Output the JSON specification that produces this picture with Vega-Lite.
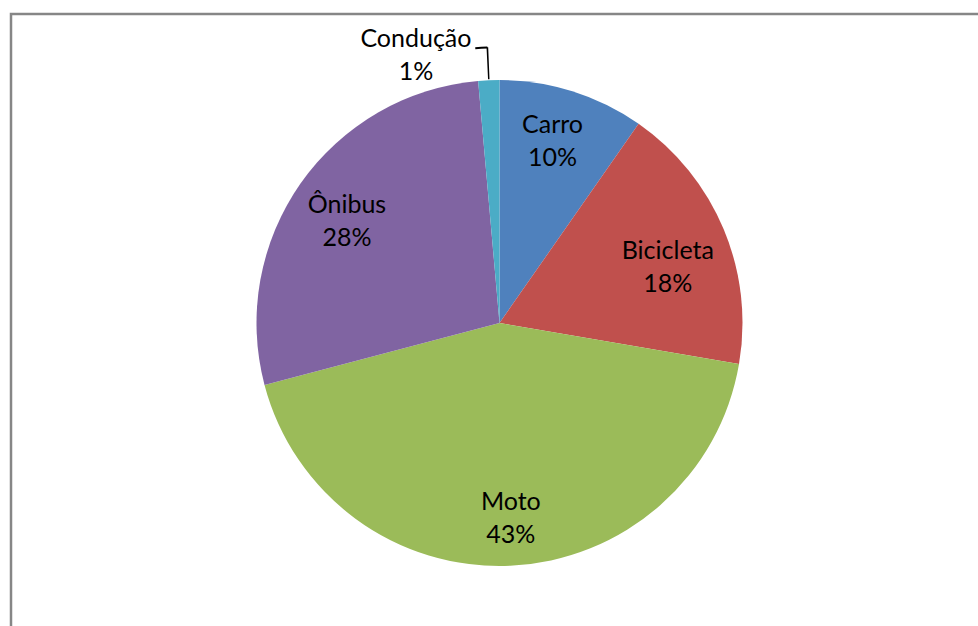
{
  "$schema": "https://vega.github.io/schema/vega-lite/v6.json",
  "width": 978,
  "height": 626,
  "autosize": {"type": "fit", "contains": "padding"},
  "padding": {"left": 9, "top": 12, "right": -12, "bottom": -8},
  "background": "white",
  "config": {
    "view": {"stroke": null},
    "text": {"font": "Lato", "fontSize": 25, "color": "black"}
  },
  "data": {
    "values": [
      {"ord": 1, "name": "Carro", "value": 9.7, "label": "Carro\n10%"},
      {"ord": 2, "name": "Bicicleta", "value": 18.0, "label": "Bicicleta\n18%"},
      {"ord": 3, "name": "Moto", "value": 43.2, "label": "Moto\n43%"},
      {"ord": 4, "name": "Ônibus", "value": 27.7, "label": "Ônibus\n28%"},
      {"ord": 5, "name": "Condução", "value": 1.4, "label": "Condução\n1%"}
    ]
  },
  "transform": [
    {"stack": "value", "groupby": [], "sort": [{"field": "ord", "order": "ascending"}], "as": ["v0", "v1"]}
  ],
  "layer": [
    {
      "data": {"values": [{"frame": 1}]},
      "transform": [],
      "mark": {"type": "rect", "fillOpacity": 0, "stroke": "#868686", "strokeWidth": 2.5}
    },
    {
      "mark": {"type": "arc", "outerRadius": 243},
      "encoding": {
        "theta": {"field": "v0", "type": "quantitative", "scale": {"domain": [0, 100]}},
        "theta2": {"field": "v1"},
        "color": {
          "field": "name",
          "type": "nominal",
          "scale": {
            "domain": ["Carro", "Bicicleta", "Moto", "Ônibus", "Condução"],
            "range": ["#4F81BD", "#C0504D", "#9BBB59", "#8064A2", "#4BACC6"]
          },
          "legend": null
        }
      }
    },
    {
      "mark": {"type": "arc", "innerRadius": 244, "outerRadius": 276, "thetaOffset": 0.041, "theta2Offset": -0.041, "color": "black"},
      "encoding": {
        "theta": {"field": "v0", "type": "quantitative"},
        "theta2": {"field": "v1"},
        "opacity": {"condition": {"test": "datum.name === 'Condução'", "value": 1}, "value": 0}
      }
    },
    {
      "mark": {"type": "arc", "innerRadius": 274.8, "outerRadius": 276.8, "theta2Offset": -0.044, "color": "black"},
      "encoding": {
        "theta": {"field": "v0", "type": "quantitative"},
        "theta2": {"field": "v1"},
        "opacity": {"condition": {"test": "datum.name === 'Condução'", "value": 1}, "value": 0}
      }
    },
    {
      "mark": {"type": "text", "radius": 185, "dx": -2.5, "dy": -21.5, "lineBreak": "\n", "lineHeight": 33, "baseline": "middle"},
      "encoding": {
        "theta": {"field": "value", "type": "quantitative", "stack": true},
        "order": {"field": "ord", "type": "quantitative"},
        "text": {"condition": {"test": "datum.name !== 'Carro'", "value": ""}, "field": "label"}
      }
    },
    {
      "mark": {"type": "text", "radius": 185, "dx": -2.4, "dy": -0.7, "lineBreak": "\n", "lineHeight": 33, "baseline": "middle"},
      "encoding": {
        "theta": {"field": "value", "type": "quantitative", "stack": true},
        "order": {"field": "ord", "type": "quantitative"},
        "text": {"condition": {"test": "datum.name !== 'Bicicleta'", "value": ""}, "field": "label"}
      }
    },
    {
      "mark": {"type": "text", "radius": 185, "dx": 3.2, "dy": -5.5, "lineBreak": "\n", "lineHeight": 33, "baseline": "middle"},
      "encoding": {
        "theta": {"field": "value", "type": "quantitative", "stack": true},
        "order": {"field": "ord", "type": "quantitative"},
        "text": {"condition": {"test": "datum.name !== 'Moto'", "value": ""}, "field": "label"}
      }
    },
    {
      "mark": {"type": "text", "radius": 185, "dx": -1.2, "dy": -12, "lineBreak": "\n", "lineHeight": 33, "baseline": "middle"},
      "encoding": {
        "theta": {"field": "value", "type": "quantitative", "stack": true},
        "order": {"field": "ord", "type": "quantitative"},
        "text": {"condition": {"test": "datum.name !== 'Ônibus'", "value": ""}, "field": "label"}
      }
    },
    {
      "mark": {"type": "text", "radius": 270, "dx": -71.7, "dy": -14.3, "lineBreak": "\n", "lineHeight": 33, "baseline": "middle"},
      "encoding": {
        "theta": {"field": "value", "type": "quantitative", "stack": true},
        "order": {"field": "ord", "type": "quantitative"},
        "text": {"condition": {"test": "datum.name !== 'Condução'", "value": ""}, "field": "label"}
      }
    }
  ]
}
